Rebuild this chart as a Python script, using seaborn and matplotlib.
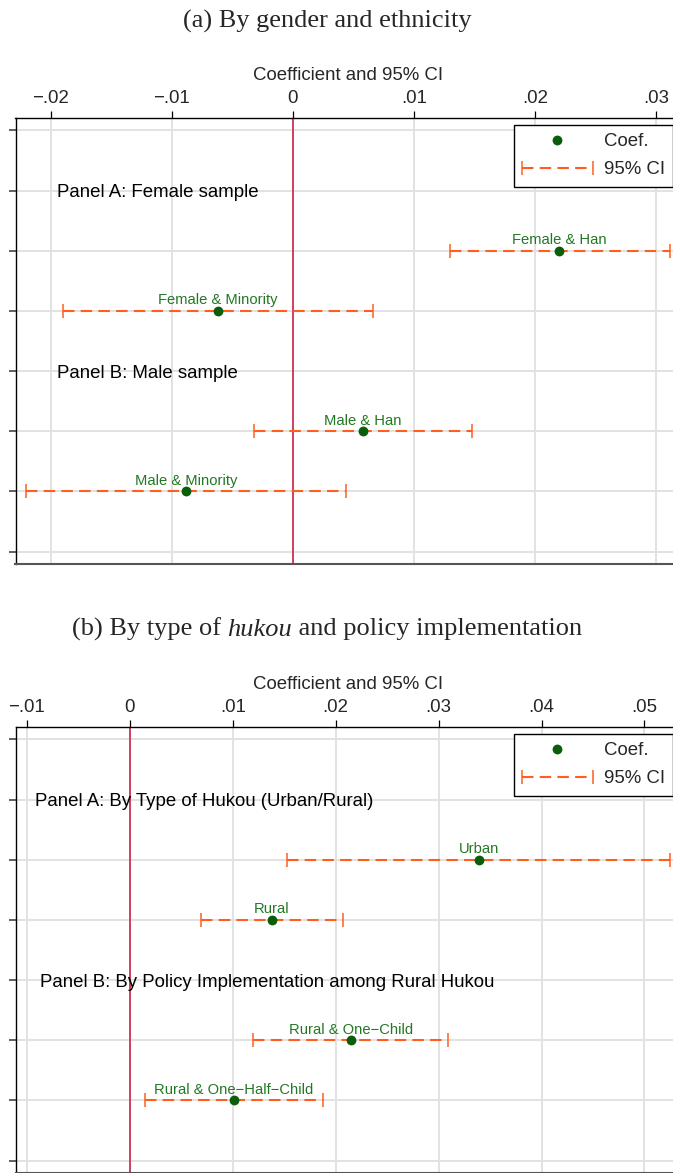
import numpy as np
import pandas as pd
import matplotlib
matplotlib.use("Agg")
import matplotlib.pyplot as plt
import seaborn as sns
from matplotlib.container import ErrorbarContainer
from matplotlib.legend_handler import HandlerErrorbar

# ---- (a) By gender and ethnicity ----
headings_a = ["Panel A: Female sample", "Panel B: Male sample"]
labels_a = [["Female & Han", "Female & Minority"],
            ["Male & Han", "Male & Minority"]]
coef_a = [0.0220, -0.0062, 0.0058, -0.0088]
ci_lo_a = [0.0130, -0.0190, -0.0032, -0.0220]
ci_hi_a = [0.0311, 0.0066, 0.0148, 0.0044]
xticks_a = [-0.02, -0.01, 0.0, 0.01, 0.02, 0.03]
xticklabels_a = ["\u2212.02", "\u2212.01", "0", ".01", ".02", ".03"]

# ---- (b) By type of hukou and policy implementation ----
headings_b = ["Panel A: By Type of Hukou (Urban/Rural)",
              "Panel B: By Policy Implementation among Rural Hukou"]
labels_b = [["Urban", "Rural"],
            ["Rural & One\u2212Child", "Rural & One\u2212Half\u2212Child"]]
coef_b = [0.0339, 0.0138, 0.0215, 0.0101]
ci_lo_b = [0.0153, 0.0069, 0.0120, 0.0015]
ci_hi_b = [0.0525, 0.0207, 0.0309, 0.0188]
xticks_b = [-0.01, 0.0, 0.01, 0.02, 0.03, 0.04, 0.05]
xticklabels_b = ["\u2212.01", "0", ".01", ".02", ".03", ".04", ".05"]

sns.set_theme(style="white")
plt.rcParams["font.family"] = ["Liberation Sans", "DejaVu Sans"]

GREEN_PT = "#0a5e0a"
GREEN_TXT = "#237823"
ORANGE = "#ff5e1f"
RED = "#c8143c"
GRID = "#e2e2e2"
FS = 13.4


def build_rows(headings, labels):
    """Row index for each heading and each coefficient (blank row top and bottom)."""
    pos = 1
    head_rows, point_rows, flat = [], [], []
    for h, labs in zip(headings, labels):
        pos += 1
        head_rows.append(pos)
        for lab in labs:
            pos += 1
            point_rows.append(pos)
            flat.append(lab)
    return head_rows, point_rows, flat, pos + 1


def draw_panel(ax, headings, labels, coef, lo, hi, xticks, xticklabels,
               xlim, heading_x):
    head_rows, point_rows, flat, n_rows = build_rows(headings, labels)
    df = pd.DataFrame({"label": flat, "coef": coef, "lo": lo, "hi": hi,
                       "row": point_rows})

    ax.axvline(0, color=RED, lw=1.1, zorder=2)

    eb = ax.errorbar(df["coef"], df["row"],
                     xerr=[df["coef"] - df["lo"], df["hi"] - df["coef"]],
                     fmt="none", ecolor=ORANGE, elinewidth=1.5,
                     capsize=4.8, capthick=1.1, zorder=3)
    eb.lines[2][0].set_linestyle((0, (5.5, 3)))

    sns.scatterplot(data=df, x="coef", y="row", ax=ax, color=GREEN_PT,
                    s=50, linewidth=0, zorder=4, legend=False)
    sc = ax.collections[-1]

    for _, r in df.iterrows():
        ax.annotate(r["label"], (r["coef"], r["row"]), xytext=(0, 4.8),
                    textcoords="offset points", ha="center", va="baseline",
                    fontsize=10.6, color=GREEN_TXT, zorder=5)

    for h, y, hx in zip(headings, head_rows, heading_x):
        ax.text(hx, y, h, transform=ax.get_yaxis_transform(),
                ha="left", va="center_baseline", fontsize=FS, color="black")

    ax.set_xlim(*xlim)
    ax.set_ylim(n_rows + 0.2, 0.8)
    ax.set_yticks(np.arange(1, n_rows + 1))
    ax.set_yticklabels([])
    ax.xaxis.tick_top()
    ax.xaxis.set_label_position("top")
    ax.set_xticks(xticks)
    ax.set_xticklabels(xticklabels)
    ax.set_xlabel("Coefficient and 95% CI", fontsize=FS, labelpad=7)
    ax.set_ylabel("")
    ax.grid(True, color=GRID, lw=1.4)
    ax.set_axisbelow(True)
    ax.tick_params(axis="x", which="both", top=True, bottom=False,
                   direction="out", length=5, width=0.9, color="black",
                   labelsize=FS, pad=3)
    ax.tick_params(axis="y", left=True, direction="out", length=5,
                   width=1.3, color="#555555")
    ax.spines["right"].set_visible(False)
    ax.spines["top"].set_color("black")
    ax.spines["top"].set_linewidth(1.0)
    ax.spines["left"].set_color("black")
    ax.spines["left"].set_linewidth(1.0)
    ax.spines["bottom"].set_color("#555555")
    ax.spines["bottom"].set_linewidth(1.5)

    ax.legend(handles=[sc, eb], labels=["Coef.", "95% CI"],
              loc="upper left", bbox_to_anchor=(0.749, 0.9856),
              borderaxespad=0, frameon=True, fancybox=False,
              edgecolor="black", framealpha=1, fontsize=FS,
              handlelength=3.8, handletextpad=0.6, borderpad=0.45,
              labelspacing=0.6, scatteryoffsets=[0.5],
              handler_map={ErrorbarContainer: HandlerErrorbar(xerr_size=1.9)})


W, H = 673, 1173
fig = plt.figure(figsize=(W / 100, H / 100), dpi=100)
fig.patch.set_facecolor("white")

ax_a = fig.add_axes([15.5 / W, 1 - 563.7 / H, 665 / W, 445.4 / H])
ax_b = fig.add_axes([15.5 / W, 1 - 1172.7 / H, 665 / W, 445.4 / H])

draw_panel(ax_a, headings_a, labels_a, coef_a, ci_lo_a, ci_hi_a,
           xticks_a, xticklabels_a, (-0.0229, 0.0320), [0.0620, 0.0620])
draw_panel(ax_b, headings_b, labels_b, coef_b, ci_lo_b, ci_hi_b,
           xticks_b, xticklabels_b, (-0.0111, 0.0535), [0.0300, 0.0370])

fig.text(327 / W, 1 - 19 / H, "(a) By gender and ethnicity",
         ha="center", va="center_baseline", fontsize=19,
         family="Liberation Serif")

# Title (b) with italic "hukou": three pieces centred as a group
parts = [("(b) By type of ", "normal"), ("hukou", "italic"),
         (" and policy implementation", "normal")]
renderer = fig.canvas.get_renderer()
texts = []
for s, style in parts:
    t = fig.text(0, 1 - 627 / H, s, ha="left", va="center_baseline",
                 fontsize=19, family="Liberation Serif", style=style)
    texts.append(t)
widths = [t.get_window_extent(renderer).width for t in texts]
x0 = 327 - sum(widths) / 2
for t, w in zip(texts, widths):
    t.set_x(x0 / W)
    x0 += w

fig.savefig("out.png", dpi=100, facecolor="white")
